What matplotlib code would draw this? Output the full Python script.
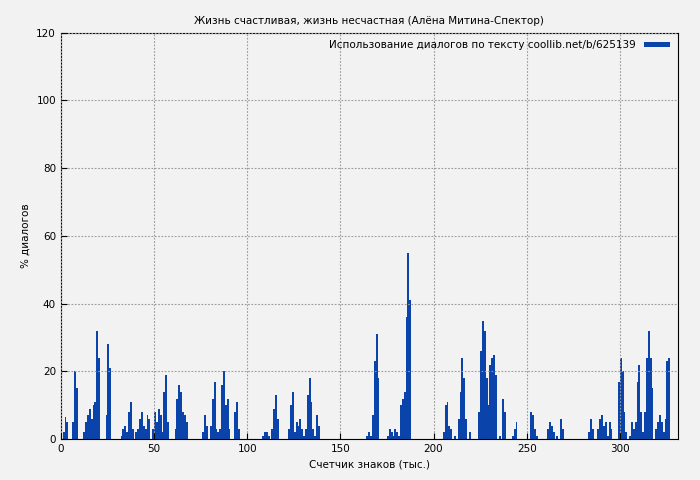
import matplotlib
matplotlib.use("Agg")
import matplotlib.pyplot as plt
import numpy as np

# thousands of characters -> % dialogue (nonzero entries; others zero)
idx = [1,2,3, 6,7,8, 12,13,14,15,16,17,18,19,20, 24,25,26, 32,33,34,35, 36,37,38, 40,41,
       42,43,44, 45,46,47, 49,50, 51,52,53, 54,55,56,57,
       61,62,63, 64,65,66,67, 76,77,78, 80,81,82,83, 84,85,86,87,88,89,90, 93,94,95,
       108,109,110,111, 113,114,115,116, 122,123,124,125, 126,127,128,129,130,
       131,132,133,134,135,136, 137,138, 164,165,166, 167,168,169,170,
       175,176,177,178, 179,180,181, 182,183,184,185,186,187,
       205,206,207,208,209, 211, 213,214,215,216,217, 219,
       224,225,226,227,228,229,230,231,232,233, 235, 237,238, 242,243,244,
       252,253,254,255, 261,262,263,264, 266, 268,269, 283,284,285,
       288,289,290,291,292, 293,294,295, 299,300,301,302,303,
       305,306,307,308,309,310,311, 312,313,314,315,316,317,
       319,320,321,322,323,324,325,326]
vals = [2,6.5,5, 5,20,15, 2,5,7,9,6,10,11,32,24, 7,28,21, 1,3,4,2, 8,11,3, 2,3,
        6,8,4, 3,7,6, 3,8, 5,9,7, 2,14,19,5,
        3,12,16, 14,8,7,5, 2,7,4, 4,12,17,3, 2,3,16,20,10,12,3, 8,11,3,
        1,2,2,1, 3,9,13,6, 3,10,14,2, 5,4,6,3,1,
        3,13,18,11,3,1, 7,4, 1,2,1, 7,23,31,18,
        1,3,2,1, 3,2,1, 10,12,14,36,55,41,
        2,10,11,4,3, 1, 6,14,24,18,6, 2,
        8,26,35,32,18,10,22,24,25,19, 1, 12,8, 1,3,5,
        8,7,3,1, 3,5,4,2, 1, 6,3, 2,6,3,
        3,6,7,4,5, 1,5,3, 17,24,20,8,2,
        1,5,3,5,17,22,8, 2,8,24,32,24,15,
        3,5,7,5,2,6,23,24]

x = np.arange(0, 330)
y = np.zeros(len(x))
for i, v in zip(idx, vals):
    y[i] = v

plt.rcParams['font.family'] = ['DejaVu Sans']
fig = plt.figure(figsize=(7, 4.8), dpi=100, facecolor='#f2f2f2')
ax = fig.add_axes([0.087, 0.085, 0.881, 0.847])
ax.set_facecolor('#f2f2f2')
ax.bar(x, y, width=1.0, align='edge', color='#0a44aa', linewidth=0,
       label='Использование диалогов по тексту coollib.net/b/625139')
ax.set_xlim(0, 331)
ax.set_ylim(0, 120)
ax.set_xticks([0, 50, 100, 150, 200, 250, 300])
ax.set_yticks(range(0, 121, 20))
ax.grid(True, color='#999999', linestyle=(0, (1.5, 1.5)), linewidth=0.8)
ax.set_axisbelow(False)
ax.tick_params(labelsize=7.5, direction='in', length=4)
ax.set_xlabel('Счетчик знаков (тыс.)', fontsize=7.5)
ax.set_ylabel('% диалогов', fontsize=7.5)
ax.set_title('Жизнь счастливая, жизнь несчастная (Алёна Митина-Спектор)', fontsize=7.5)
ax.legend(loc='upper right', frameon=False, fontsize=7.5, markerfirst=False,
          handlelength=2.5, handleheight=0.4, borderaxespad=0.3)
fig.savefig('out.png', dpi=100, facecolor=fig.get_facecolor())
